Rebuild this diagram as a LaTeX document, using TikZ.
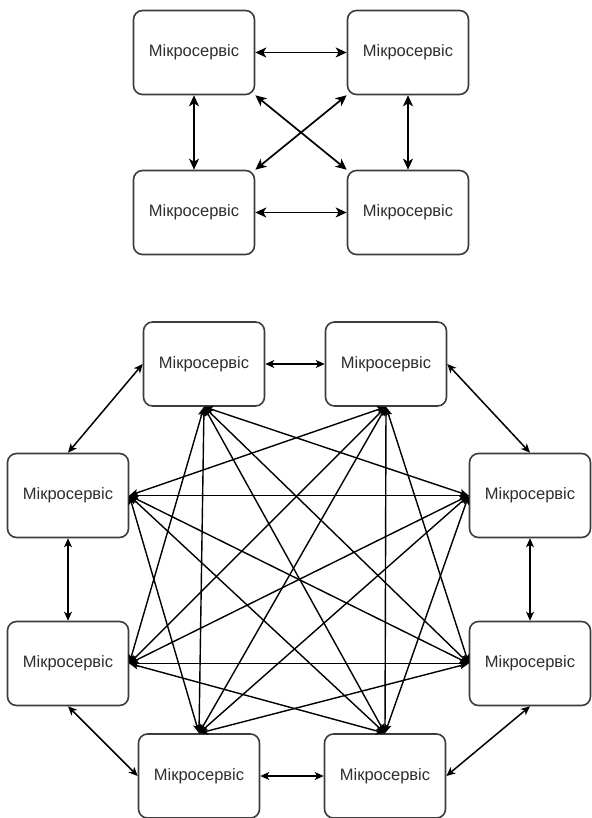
\documentclass[tikz,border=0pt]{standalone}
\usepackage{fontspec}
\setmainfont{Liberation Sans}
\usetikzlibrary{arrows.meta}
\definecolor{boxgray}{HTML}{3C3C3C}
\definecolor{txtgray}{HTML}{2E2E2E}
\begin{document}
\begin{tikzpicture}[x=1pt,y=-1pt,
  svc/.style={draw=boxgray, line width=1.6pt, rounded corners=9pt, fill=white,
    minimum width=121pt, minimum height=84pt, inner sep=0pt,
    font=\fontsize{16.5}{19}\selectfont, text=txtgray},
  link/.style={line width=1.7pt, {Stealth[length=11pt,width=10pt,inset=3pt]}-{Stealth[length=11pt,width=10pt,inset=3pt]}},
  small/.style={line width=1.5pt, {Stealth[length=9pt,width=8pt,inset=2.5pt]}-{Stealth[length=9pt,width=8pt,inset=2.5pt]}},
  mesh/.style={line width=1.4pt, {Stealth[length=9pt,width=7pt,inset=2pt]}-{Stealth[length=9pt,width=7pt,inset=2pt]}}]
\useasboundingbox (0,0) rectangle (591,818);
% top diagram
\node[svc] (t1) at (194,52.5) {Мікросервіс};
\node[svc] (t2) at (408,52.5) {Мікросервіс};
\node[svc] (t3) at (194,212.5) {Мікросервіс};
\node[svc] (t4) at (408,212.5) {Мікросервіс};
\draw[link] (t1.east) -- (t2.west);
\draw[link] (t3.east) -- (t4.west);
\draw[link] (t1.south) -- (t3.north);
\draw[link] (t2.south) -- (t4.north);
\draw[link] (t1.south east) -- (t4.north west);
\draw[link] (t2.south west) -- (t3.north east);
% bottom diagram
\node[svc] (n1) at (204,364) {Мікросервіс};
\node[svc] (n2) at (386,364) {Мікросервіс};
\node[svc] (w1) at (68,495.5) {Мікросервіс};
\node[svc] (e1) at (530,495.5) {Мікросервіс};
\node[svc] (w2) at (68,663.5) {Мікросервіс};
\node[svc] (e2) at (530,663.5) {Мікросервіс};
\node[svc] (s1) at (199,776) {Мікросервіс};
\node[svc] (s2) at (385,776) {Мікросервіс};
% ring
\draw[small] (n1.east) -- (n2.west);
\draw[small] (n2.east) -- (e1.north);
\draw[small] (e1.south) -- (e2.north);
\draw[small] (e2.south) -- (s2.east);
\draw[small] (s2.west) -- (s1.east);
\draw[small] (s1.west) -- (w2.south);
\draw[small] (w2.north) -- (w1.south);
\draw[small] (w1.north) -- (n1.west);
% mesh
\coordinate (pn1) at (n1.south);
\coordinate (pn2) at (n2.south);
\coordinate (pe1) at (e1.west);
\coordinate (pe2) at (e2.west);
\coordinate (ps2) at (s2.north);
\coordinate (ps1) at (s1.north);
\coordinate (pw2) at (w2.east);
\coordinate (pw1) at (w1.east);
\foreach \a/\b in {pn1/pe1,pn1/pe2,pn1/ps2,pn1/ps1,pn1/pw2,
                   pn2/pe2,pn2/ps2,pn2/ps1,pn2/pw2,pn2/pw1,
                   pe1/ps2,pe1/ps1,pe1/pw2,pe1/pw1,
                   pe2/ps1,pe2/pw2,pe2/pw1,
                   ps2/pw2,ps2/pw1,
                   ps1/pw1}
  \draw[mesh] (\a) -- (\b);
\end{tikzpicture}
\end{document}
